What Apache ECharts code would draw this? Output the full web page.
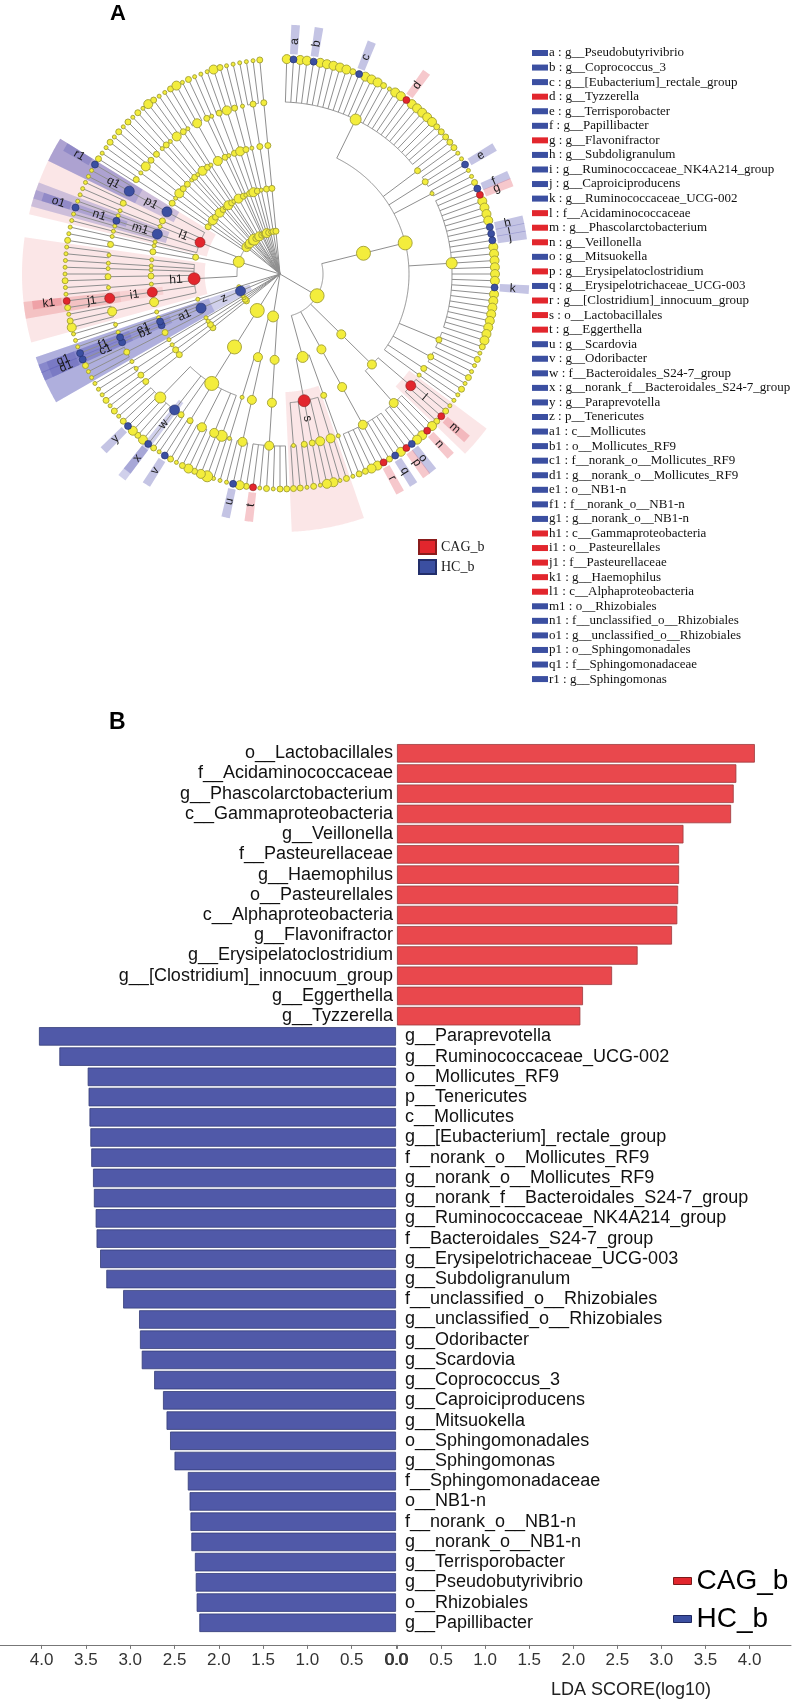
<!DOCTYPE html>
<html>
<head>
<meta charset="utf-8">
<script src="https://cdn.jsdelivr.net/npm/echarts/dist/echarts.min.js"></script>
<style>
html, body { margin: 0; padding: 0; background: #fff; }
#main { width: 800px; height: 1699px; }
</style>
</head>
<body>
<div id="main"></div>
<script>
// ---------- panel A : cladogram ----------
var cladeKeys = ['a','b','c','d','e','f','g','h','i','j','k','l','m','n','o','p','q','r','s','t','u','v','w','x','y','z',
  'a1','b1','c1','d1','e1','f1','g1','h1','i1','j1','k1','l1','m1','n1','o1','p1','q1','r1'];
var cladeNames = ['g__Pseudobutyrivibrio','g__Coprococcus_3','g__[Eubacterium]_rectale_group','g__Tyzzerella',
  'g__Terrisporobacter','g__Papillibacter','g__Flavonifractor','g__Subdoligranulum','g__Ruminococcaceae_NK4A214_group',
  'g__Caproiciproducens','g__Ruminococcaceae_UCG-002','f__Acidaminococcaceae','g__Phascolarctobacterium','g__Veillonella',
  'g__Mitsuokella','g__Erysipelatoclostridium','g__Erysipelotrichaceae_UCG-003','g__[Clostridium]_innocuum_group',
  'o__Lactobacillales','g__Eggerthella','g__Scardovia','g__Odoribacter','f__Bacteroidales_S24-7_group',
  'g__norank_f__Bacteroidales_S24-7_group','g__Paraprevotella','p__Tenericutes','c__Mollicutes','o__Mollicutes_RF9',
  'f__norank_o__Mollicutes_RF9','g__norank_o__Mollicutes_RF9','o__NB1-n','f__norank_o__NB1-n','g__norank_o__NB1-n',
  'c__Gammaproteobacteria','o__Pasteurellales','f__Pasteurellaceae','g__Haemophilus','c__Alphaproteobacteria',
  'o__Rhizobiales','f__unclassified_o__Rhizobiales','g__unclassified_o__Rhizobiales','o__Sphingomonadales',
  'f__Sphingomonadaceae','g__Sphingomonas'];
var cladeGroups = ['HC','HC','HC','CAG','HC','HC','CAG','HC','HC','HC','HC','CAG','CAG','CAG','HC','CAG','HC','CAG',
  'CAG','CAG','HC','HC','HC','HC','HC','HC','HC','HC','HC','HC','HC','HC','HC','CAG','CAG','CAG','CAG','CAG',
  'HC','HC','HC','HC','HC','HC'];

// node = [size, cladeKey, children]; children = list of nodes, or a string of genus leaves
// (digit = node size, other token = marked clade key). [[sizes...], leaves] = single-line chain
var taxTree = [0, '', [
  [5, '', [                                    // Firmicutes
    [5, '', [                                  // Clostridia
      [5, '', [                                // Clostridiales
        [4, '', '3 a 3 3 b 3 3 3 3 3 2 c 3 3 3 2 1 3 3 d 3 3 3 3 3 2 2 2'],
        [2, '', '2 2'],
        [2, '', '1 1 e'],
        [1, '', '1 1'],
        [4, '', '2 f g 3 3 3 3 h i j 3 3 3 3 3 3 k 3 3 3 3 3 3 3 3'],
        [2, '', '2 1 2 1'],
        [2, '', '1 2 1'],
        [2, '', '2 1'],
        [1, '', '1']
      ]]
    ]],
    [3, '', [[3, '', [[3, 'l', '1 2 m 2'], [3, '', '3 n 3 3 o']]]]],      // Negativicutes
    [3, '', [[3, '', [[3, '', 'p 3 q 2 r 3 3 2 2']]]]],                    // Erysipelotrichia
    [4, '', [                                                               // Bacilli
      [2, '', [[1, '', '1']]],
      [4, 's', [[3, '', '2 1'], [3, '', '3 3'], [2, '', '1'], [2, '', '2 1'], [1, '', '2 2']]]
    ]]
  ]],
  [4, '', [                                    // Actinobacteria
    [3, '', [[3, '', [[3, '', '2 2 1 2 1 t 2']]]]],
    [3, '', [[3, '', [[3, '', '3 u 1']]], [1, '', [[1, '', '1 1']]]]]
  ]],
  [5, '', [[5, '', [[5, '', [                  // Bacteroidetes
    [4, '', '4'], [3, '', '3 2'], [3, '', '3 2 1'], [2, '', '2 v'], [2, '', '1 2'],
    [3, 'w', 'x'], [4, '', '3 2 3 y 2 1']
  ]]]]]],
  [[2, 2, 2, 2], '2 1'],
  [[2, 2, 2, 2], '2'],
  [[1, 1, 1, 1], '1 1'],
  [[1, 1, 1, 1], '1'],
  [3, 'z', [[3, 'a1', [                        // Tenericutes
    [2, '', [[2, '', '1 1 2']]],
    [2, 'b1', [[2, 'c1', 'd1']]],
    [2, 'e1', [[2, 'f1', 'g1']]],
    [1, '', [[1, '', '1']]]
  ]]]],
  [[1, 1, 1, 1], '1 1'],
  [4, '', [                                    // Proteobacteria
    [4, 'h1', [
      [3, '', [[3, '', '3 2 1']]],
      [3, 'i1', [[3, 'j1', '2 k1']]],
      [1, '', [[1, '', '1 1']]],
      [2, '', [[2, '', '2 1']]],
      [1, '', [[1, '', '1']]],
      [1, '', [[1, '', '1']]],
      [1, '', [[1, '', '1 1']]]
    ]],
    [2, '', [[2, '', [[2, '', '2 1']]], [1, '', [[1, '', '1']]]]],
    [3, 'l1', [
      [1, '', [[1, '', '1']]],
      [3, 'm1', [[1, '', '1'], [2, 'n1', 'o1'], [1, '', '1']]],
      [1, '', [[1, '', '1']]],
      [2, '', [[2, '', '1 1']]],
      [3, 'p1', [[3, 'q1', '1 1 r1']]]
    ]],
    [2, '', [[2, '', [[2, '', '2 1']]]]],
    [1, '', [[1, '', [[1, '', '1']]]]]
  ]],
  [[3, 3, 3, 3], '2 1'],
  [[2, 2, 2, 2], '2'],
  [3, '', [[3, '', [[2, '', [[2, '', '1 2']]], [1, '', [[1, '', '1']]]]]]],
  [[2, 2, 2, 2], '2'],
  [[1, 1, 1, 1], '1'],
  [[4, 3, 3, 3], '3 2'],
  [[2, 2, 2, 2], '1'],
  [[1, 1, 1, 1], '1'],
  [[3, 3, 3, 3], '2 3 1'],
  [[2, 2, 2, 2], '2'],
  [[1, 1, 1, 1], '1'],
  [[2, 2, 2, 2], '1 1'],
  [[3, 3, 3, 3], '3'],
  [[2, 2, 2, 2], '2 1'],
  [[1, 1, 1, 1], '1'],
  [[2, 2, 2, 2], '1 1 1'],
  [[2, 2, 2, 2], '2']
]];

// ---------- panel B : LDA scores ----------
var ldaNames = ['o__Lactobacillales','f__Acidaminococcaceae','g__Phascolarctobacterium','c__Gammaproteobacteria',
  'g__Veillonella','f__Pasteurellaceae','g__Haemophilus','o__Pasteurellales','c__Alphaproteobacteria',
  'g__Flavonifractor','g__Erysipelatoclostridium','g__[Clostridium]_innocuum_group','g__Eggerthella','g__Tyzzerella',
  'g__Paraprevotella','g__Ruminococcaceae_UCG-002','o__Mollicutes_RF9','p__Tenericutes','c__Mollicutes',
  'g__[Eubacterium]_rectale_group','f__norank_o__Mollicutes_RF9','g__norank_o__Mollicutes_RF9',
  'g__norank_f__Bacteroidales_S24-7_group','g__Ruminococcaceae_NK4A214_group','f__Bacteroidales_S24-7_group',
  'g__Erysipelotrichaceae_UCG-003','g__Subdoligranulum','f__unclassified_o__Rhizobiales',
  'g__unclassified_o__Rhizobiales','g__Odoribacter','g__Scardovia','g__Coprococcus_3','g__Caproiciproducens',
  'g__Mitsuokella','o__Sphingomonadales','g__Sphingomonas','f__Sphingomonadaceae','o__NB1-n','f__norank_o__NB1-n',
  'g__norank_o__NB1-n','g__Terrisporobacter','g__Pseudobutyrivibrio','o__Rhizobiales','g__Papillibacter'];
var ldaScores = [4.06, 3.85, 3.82, 3.79, 3.25, 3.20, 3.20, 3.19, 3.18, 3.12, 2.73, 2.44, 2.11, 2.08,
  4.03, 3.80, 3.48, 3.47, 3.46, 3.45, 3.44, 3.42, 3.41, 3.39, 3.38, 3.34, 3.27, 3.08,
  2.90, 2.89, 2.87, 2.73, 2.63, 2.59, 2.55, 2.50, 2.35, 2.33, 2.32, 2.31, 2.27, 2.26, 2.25, 2.22];
var ldaGroups = ['CAG','CAG','CAG','CAG','CAG','CAG','CAG','CAG','CAG','CAG','CAG','CAG','CAG','CAG',
  'HC','HC','HC','HC','HC','HC','HC','HC','HC','HC','HC','HC','HC','HC','HC','HC','HC','HC','HC','HC',
  'HC','HC','HC','HC','HC','HC','HC','HC','HC','HC'];
var scoreTicks = ['0.0','0.5','1.0','1.5','2.0','2.5','3.0','3.5','4.0'];

var RED = '#e2262d', BLUE = '#3b4fa1';
var sansFont = '"Liberation Sans", Arial, sans-serif';
var serifFont = '"Liberation Serif", "Times New Roman", serif';
var nodePx = [0, 4, 6, 9, 11, 14];

// flatten the tree: every node gets a ring level and an angle slot
var nodes = [];
var leafCount = 0;
function expand(n) {
  if (!Array.isArray(n[0])) return n;
  var s = n[0], cur = [s[s.length - 1], '', n[1]];
  for (var i = s.length - 2; i >= 0; i--) cur = [s[i], '', [cur]];
  return cur;
}
function walk(n, level, parent) {
  n = expand(n);
  var me = {level: level, size: n[0], key: n[1], parent: parent, leaf: false};
  var idx = nodes.push(me) - 1;
  var kids = [];
  if (typeof n[2] === 'string') {
    n[2].split(' ').forEach(function (t) {
      leafCount++;
      var mark = isNaN(+t);
      kids.push(nodes.push({level: level + 1, size: mark ? 0 : +t, key: mark ? t : '', parent: idx,
        angle: leafCount, l0: leafCount, l1: leafCount, leaf: true}) - 1);
    });
  } else {
    n[2].forEach(function (c) { kids.push(walk(c, level + 1, idx)); });
  }
  me.a0 = nodes[kids[0]].angle;
  me.a1 = nodes[kids[kids.length - 1]].angle;
  me.angle = (me.a0 + me.a1) / 2;
  me.l0 = nodes[kids[0]].l0;
  me.l1 = nodes[kids[kids.length - 1]].l1;
  return idx;
}
walk(taxTree, 0, -1);

function groupOf(key) { return cladeGroups[cladeKeys.indexOf(key)]; }

function arcPts(api, r, a0, a1) {
  var pts = [];
  for (var a = a0; a < a1; a += 0.2) pts.push(api.coord([r, a]));
  pts.push(api.coord([r, a1]));
  return pts;
}

var linkData = [], markData = [], taxaData = [], cagData = [], hcData = [];
nodes.forEach(function (n, i) {
  if (n.level === 0) return;
  linkData.push([n.level, n.angle, i]);
  if (n.key) {
    markData.push([n.level, n.angle, i]);
    var px = n.leaf ? 7 : nodePx[n.size] + 1;
    (groupOf(n.key) === 'CAG' ? cagData : hcData).push([n.level, n.angle, px]);
  } else {
    taxaData.push([n.level, n.angle, nodePx[n.size]]);
  }
});

function renderWedge(params, api) {
  var n = nodes[api.value(2)];
  var cag = groupOf(n.key) === 'CAG';
  var r0 = n.leaf ? 5.12 : n.level - 0.25;
  var r1 = n.leaf ? 5.8 : 6;
  var outer = arcPts(api, r1, n.l0 - 0.55, n.l1 + 0.55);
  var inner = arcPts(api, r0, n.l0 - 0.55, n.l1 + 0.55).reverse();
  var fill = n.leaf ? (cag ? 'rgba(232,110,120,0.38)' : 'rgba(100,100,185,0.38)')
                    : (cag ? 'rgba(235,130,135,0.2)' : 'rgba(100,100,190,0.3)');
  return {type: 'polygon', shape: {points: outer.concat(inner)}, style: {fill: fill}};
}

function renderLink(params, api) {
  var n = nodes[api.value(2)];
  var p = nodes[n.parent];
  var st = {stroke: '#8f8f8f', lineWidth: 1, fill: null};
  var kids = [{type: 'polyline', shape: {points: [api.coord([p.level, n.angle]), api.coord([n.level, n.angle])]}, style: st}];
  if (!n.leaf && n.a1 > n.a0) {
    kids.push({type: 'polyline', shape: {points: arcPts(api, n.level, n.a0, n.a1)}, style: st});
  }
  return {type: 'group', children: kids};
}

function renderLabel(params, api) {
  var n = nodes[api.value(2)];
  var r = n.leaf ? 5.42 : n.level + 0.42;
  var c = api.coord([0, 0]), pt = api.coord([r, n.angle]);
  var rot = Math.atan2(c[1] - pt[1], pt[0] - c[0]);
  if (pt[0] < c[0] - 0.5) rot += Math.PI;
  return {type: 'text', x: pt[0], y: pt[1], rotation: rot,
    style: {text: n.key, font: '12px ' + sansFont, fill: '#1a1a1a', align: 'center', verticalAlign: 'middle'}};
}

// key list on the right of panel A
var keyList = [];
cladeKeys.forEach(function (k, i) {
  var y = 53 + i * 14.56;
  keyList.push({type: 'rect', x: 532, y: y - 3, shape: {width: 16, height: 6},
    style: {fill: cladeGroups[i] === 'CAG' ? RED : BLUE}});
  keyList.push({type: 'text', x: 549, y: y,
    style: {text: k + ' : ' + cladeNames[i], font: '13px ' + serifFont, fill: '#111', verticalAlign: 'middle'}});
});

// ---------- chart ----------
var myChart = echarts.init(document.getElementById('main'), null, {renderer: 'canvas'});

var tickFmt = function (v) {
  var s = v.toFixed(1);
  return scoreTicks.indexOf(s) >= 0 && Math.abs(v * 2 - Math.round(v * 2)) < 1e-6 ? s : '';
};
var scoreAxis = function (grid, inverse) {
  return {
    gridIndex: grid, type: 'value', min: 0, max: 4.47, interval: 0.5, inverse: inverse, offset: 12,
    axisLine: {show: true, lineStyle: {color: '#777', width: 1}},
    axisTick: {show: true, length: 4, lineStyle: {color: '#777'}},
    axisLabel: {fontSize: 17, color: '#333', fontFamily: sansFont, margin: 7, showMaxLabel: false, formatter: tickFmt},
    splitLine: {show: false}
  };
};
var xLeft = scoreAxis(0, true);
var xRight = scoreAxis(1, false);
xRight.name = 'LDA SCORE(log10)';
xRight.nameLocation = 'middle';
xRight.nameGap = 36;
xRight.nameTextStyle = {fontSize: 18, color: '#222', fontFamily: sansFont, padding: [0, 0, 0, 74]};

var nameAxis = function (grid, pos, group, margin) {
  return {
    gridIndex: grid, type: 'category', data: ldaNames, inverse: true, position: pos,
    axisLine: {show: false}, axisTick: {show: false}, splitLine: {show: false},
    axisLabel: {interval: 0, margin: margin, fontSize: 18, color: '#111', fontFamily: sansFont,
      formatter: function (v, i) { return ldaGroups[i] === group ? v : ''; }}
  };
};

var option = {
  animation: false,
  backgroundColor: '#fff',
  title: [
    {text: 'A', left: 110, top: 3, padding: 0, textStyle: {fontSize: 22, fontWeight: 'bold', fontFamily: sansFont, color: '#000'}},
    {text: 'B', left: 109, top: 711, padding: 0, textStyle: {fontSize: 23, fontWeight: 'bold', fontFamily: sansFont, color: '#000'}}
  ],
  legend: [
    {data: ['CAG_b', 'HC_b'], orient: 'vertical', left: 418, top: 539, padding: 0, icon: 'rect',
      itemWidth: 17, itemHeight: 14, itemGap: 4, selectedMode: false,
      textStyle: {fontSize: 14, fontFamily: serifFont, color: '#222'}},
    {data: [{name: 'CAG_b', itemStyle: {color: RED, borderColor: '#7a1a1a', borderWidth: 1}},
            {name: 'HC_b', itemStyle: {color: BLUE, borderColor: '#1f2860', borderWidth: 1}}],
      orient: 'vertical', left: 673, top: 1567, padding: 0, icon: 'rect',
      itemWidth: 18, itemHeight: 7, itemGap: 10, selectedMode: false,
      textStyle: {fontSize: 28, fontFamily: sansFont, color: '#000'}}
  ],
  polar: {center: [280, 274], radius: 258},
  angleAxis: {type: 'value', min: 0, max: 200, startAngle: 90, clockwise: true,
    axisLine: {show: false}, axisTick: {show: false}, axisLabel: {show: false}, splitLine: {show: false}},
  radiusAxis: {type: 'value', min: 0, max: 6,
    axisLine: {show: false}, axisTick: {show: false}, axisLabel: {show: false}, splitLine: {show: false}},
  grid: [
    {left: 0, width: 396, top: 743.2, height: 889.7, containLabel: false, outerBoundsMode: 'none'},
    {left: 397, width: 394, top: 743.2, height: 889.7, containLabel: false, outerBoundsMode: 'none'}
  ],
  xAxis: [xLeft, xRight],
  yAxis: [nameAxis(0, 'right', 'HC', 9), nameAxis(1, 'left', 'CAG', 4)],
  graphic: keyList,
  series: [
    {type: 'custom', name: 'wedges', coordinateSystem: 'polar', renderItem: renderWedge, data: markData, z: 1, silent: true},
    {type: 'custom', name: 'links', coordinateSystem: 'polar', renderItem: renderLink, data: linkData, z: 2, silent: true},
    {type: 'scatter', name: 'taxa', coordinateSystem: 'polar', data: taxaData, z: 3,
      symbolSize: function (v) { return v[2]; },
      itemStyle: {color: '#f3ed3c', borderColor: '#a29e34', borderWidth: 0.9, opacity: 1}},
    {type: 'scatter', name: 'CAG_b', coordinateSystem: 'polar', data: cagData, z: 4,
      symbolSize: function (v) { return v[2]; },
      itemStyle: {color: RED, borderColor: '#8a1c1c', borderWidth: 0.6, opacity: 1}},
    {type: 'scatter', name: 'HC_b', coordinateSystem: 'polar', data: hcData, z: 4,
      symbolSize: function (v) { return v[2]; },
      itemStyle: {color: BLUE, borderColor: '#222e6a', borderWidth: 0.6, opacity: 1}},
    {type: 'custom', name: 'keys', coordinateSystem: 'polar', renderItem: renderLabel, data: markData, z: 5, silent: true},
    {type: 'bar', name: 'CAG_b', xAxisIndex: 1, yAxisIndex: 1, barWidth: 18.5,
      data: ldaScores.map(function (v, i) { return ldaGroups[i] === 'CAG' ? v : '-'; }),
      itemStyle: {color: '#e9484d', borderColor: '#9c3a3e', borderWidth: 0.8}},
    {type: 'bar', name: 'HC_b', xAxisIndex: 0, yAxisIndex: 0, barWidth: 18.5,
      data: ldaScores.map(function (v, i) { return ldaGroups[i] === 'HC' ? v : '-'; }),
      itemStyle: {color: '#5059a8', borderColor: '#353d78', borderWidth: 0.8}}
  ]
};

myChart.setOption(option);
</script>
</body>
</html>
